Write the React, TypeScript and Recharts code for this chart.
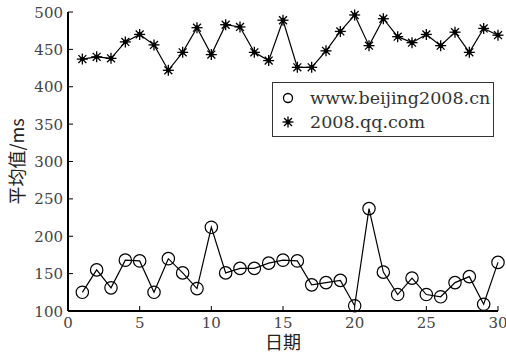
import { LineChart, Line, XAxis, YAxis } from "recharts"

const days = [1, 2, 3, 4, 5, 6, 7, 8, 9, 10, 11, 12, 13, 14, 15, 16, 17, 18, 19, 20, 21, 22, 23, 24, 25, 26, 27, 28, 29, 30]
const beijing2008 = [125, 155, 131, 168, 167, 125, 170, 151, 130, 212, 151, 157, 157, 164, 168, 167, 135, 138, 141, 107, 237, 152, 122, 144, 122, 119, 138, 146, 109, 165]
const qq2008 = [437, 440, 438, 460, 470, 456, 422, 446, 479, 443, 483, 480, 446, 435, 489, 426, 426, 448, 474, 496, 455, 491, 467, 459, 470, 455, 473, 446, 478, 469]
const seriesNames = ["www.beijing2008.cn", "2008.qq.com"]
const xTicks = [0, 5, 10, 15, 20, 25, 30]
const yTicks = [100, 150, 200, 250, 300, 350, 400, 450, 500]

const data = days.map((d, i) => ({ day: d, beijing: beijing2008[i], qq: qq2008[i] }))

const serif = "'DejaVu Serif', serif"
const cjk = "'Noto Sans CJK SC', sans-serif"

const Star = ({ cx, cy }: any) => {
  if (cx == null || cy == null) return null
  const r = 5.5
  const d = r * 0.72
  return (
    <g stroke="#000" strokeWidth={1.3}>
      <line x1={cx - r} y1={cy} x2={cx + r} y2={cy} />
      <line x1={cx} y1={cy - r} x2={cx} y2={cy + r} />
      <line x1={cx - d} y1={cy - d} x2={cx + d} y2={cy + d} />
      <line x1={cx - d} y1={cy + d} x2={cx + d} y2={cy - d} />
      <circle cx={cx} cy={cy} r={1.8} fill="#000" />
    </g>
  )
}

const Ring = ({ cx, cy }: any) => {
  if (cx == null || cy == null) return null
  return <circle cx={cx} cy={cy} r={6.2} fill="none" stroke="#000" strokeWidth={1.2} />
}

const XTick = ({ x, y, payload }: any) => (
  <text x={x} y={y + 12} textAnchor="middle" fill="#444" style={{ fontFamily: serif, fontSize: 15 }}>
    {payload.value}
  </text>
)

const YTick = ({ x, y, payload }: any) => (
  <text x={x} y={y + 5.5} textAnchor="end" fill="#444" style={{ fontFamily: serif, fontSize: 15 }}>
    {payload.value}
  </text>
)

// legend drawn as an overlay so it doesn't eat chart space
const LegendBox = () => (
  <div
    style={{
      position: "absolute",
      left: 272,
      top: 82,
      width: 222,
      height: 55,
      border: "1px solid #333",
      background: "#fff",
      fontFamily: serif,
      fontSize: 17.5,
      color: "#333",
      boxSizing: "border-box",
      paddingTop: 3,
      whiteSpace: "nowrap",
    }}
  >
    <div style={{ display: "flex", alignItems: "center", height: 24 }}>
      <svg width={37} height={20} style={{ flexShrink: 0 }}>
        <circle cx={15} cy={10} r={4.5} fill="none" stroke="#000" strokeWidth={1.3} />
      </svg>
      <span>{seriesNames[0]}</span>
    </div>
    <div style={{ display: "flex", alignItems: "center", height: 24 }}>
      <svg width={37} height={20} style={{ flexShrink: 0 }}>
        <Star cx={15} cy={10} />
      </svg>
      <span>{seriesNames[1]}</span>
    </div>
  </div>
)

export default function App() {
  return (
    <div style={{ position: "absolute", left: 0, top: 0, width: 506, height: 354, background: "#fff" }}>
      <LineChart width={506} height={354} data={data} margin={{ top: 12, right: 8, bottom: 0, left: 0 }}>
        <XAxis
          xAxisId="b"
          dataKey="day"
          type="number"
          domain={[0, 30]}
          ticks={xTicks}
          height={43}
          tickSize={-5}
          tickMargin={10}
          axisLine={{ stroke: "#000", strokeWidth: 2 }}
          tickLine={{ stroke: "#000", strokeWidth: 1 }}
          tick={<XTick />}
          label={{ value: "日期", position: "insideBottom", offset: 5, fill: "#222", fontSize: 18, fontFamily: cjk }}
        />
        <XAxis
          xAxisId="t"
          orientation="top"
          dataKey="day"
          type="number"
          domain={[0, 30]}
          ticks={xTicks}
          height={0}
          tickSize={-5}
          axisLine={{ stroke: "#000", strokeWidth: 2 }}
          tickLine={{ stroke: "#000", strokeWidth: 1 }}
          tick={false}
        />
        <YAxis
          yAxisId="l"
          type="number"
          domain={[100, 500]}
          ticks={yTicks}
          width={68}
          tickSize={-5}
          tickMargin={10}
          axisLine={{ stroke: "#000", strokeWidth: 2 }}
          tickLine={{ stroke: "#000", strokeWidth: 1 }}
          tick={<YTick />}
          label={{ value: "平均值/ms", angle: -90, position: "insideLeft", offset: 18, fill: "#222", fontSize: 18, fontFamily: cjk, style: { textAnchor: "middle" } }}
        />
        <YAxis
          yAxisId="r"
          orientation="right"
          type="number"
          domain={[100, 500]}
          ticks={yTicks}
          width={0}
          tickSize={-5}
          axisLine={{ stroke: "#000", strokeWidth: 2 }}
          tickLine={{ stroke: "#000", strokeWidth: 1 }}
          tick={false}
        />
        <Line
          xAxisId="b"
          yAxisId="l"
          dataKey="beijing"
          name={seriesNames[0]}
          stroke="#000"
          strokeWidth={1.2}
          dot={<Ring />}
          activeDot={false}
          isAnimationActive={false}
        />
        <Line
          xAxisId="b"
          yAxisId="l"
          dataKey="qq"
          name={seriesNames[1]}
          stroke="#000"
          strokeWidth={1.2}
          dot={<Star />}
          activeDot={false}
          isAnimationActive={false}
        />
      </LineChart>
      <LegendBox />
    </div>
  )
}
